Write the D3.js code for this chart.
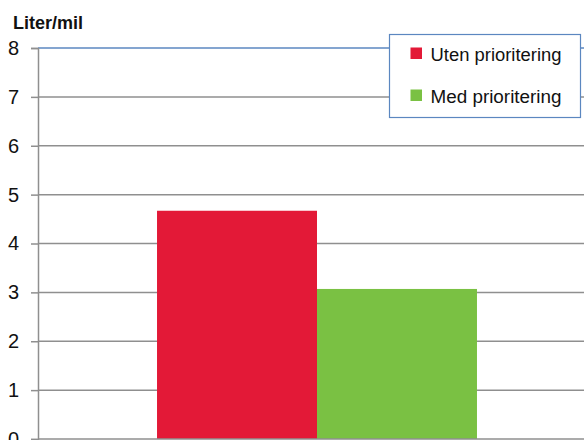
<!DOCTYPE html>
<html>
<head>
<meta charset="utf-8">
<script src="https://cdn.jsdelivr.net/npm/d3@7"></script>
<style>
  html, body { margin: 0; padding: 0; background: #fff; }
  svg { display: block; font-family: "Liberation Sans", Arial, sans-serif; }
</style>
</head>
<body>
<script>
// Fuel use per mile, with and without prioritisation
const categories = [""];
const seriesNames = ["Uten prioritering", "Med prioritering"];
const seriesColors = ["#e31937", "#7ac143"];
const seriesValues = [4.67, 3.07];
const yTicks = [0, 1, 2, 3, 4, 5, 6, 7, 8];
const yTitle = "Liter/mil";

const W = 584, H = 440;
const plot = { left: 38, right: 596, top: 48, bottom: 439 };

const svg = d3.select("body").append("svg")
  .attr("width", W).attr("height", H);

const y = d3.scaleLinear().domain([0, 8]).range([plot.bottom, plot.top]);
const x0 = d3.scaleBand().domain(categories)
  .range([plot.left, plot.right]).paddingInner(0).paddingOuter(0.372);
const x1 = d3.scaleBand().domain(seriesNames)
  .range([0, x0.bandwidth()]).padding(0);

// horizontal gridlines
svg.append("g").selectAll("line")
  .data(yTicks.filter(t => t > 0 && t < 8))
  .join("line")
  .attr("x1", plot.left).attr("x2", W)
  .attr("y1", d => y(d)).attr("y2", d => y(d))
  .attr("stroke", "#8f8f8f").attr("stroke-width", 1.5);

// top border of plot area
svg.append("line")
  .attr("x1", plot.left).attr("x2", W)
  .attr("y1", y(8)).attr("y2", y(8))
  .attr("stroke", "#5b87c0").attr("stroke-width", 1.5);

// bars
const g = svg.append("g").attr("transform", `translate(${x0(categories[0])},0)`);
g.selectAll("rect").data(seriesValues).join("rect")
  .attr("x", (d, i) => x1(seriesNames[i]))
  .attr("width", x1.bandwidth())
  .attr("y", d => y(d))
  .attr("height", d => y(0) - y(d))
  .attr("fill", (d, i) => seriesColors[i]);

// y axis
const yAxis = d3.axisLeft(y).tickValues(yTicks).tickSize(7).tickPadding(12)
  .tickFormat(d3.format("d"));
const ax = svg.append("g").attr("transform", `translate(${plot.left},0)`).call(yAxis);
ax.select(".domain").attr("stroke", "#8f8f8f").attr("stroke-width", 1.5);
ax.selectAll(".tick line").attr("stroke", "#8f8f8f").attr("stroke-width", 1.5);
ax.selectAll(".tick text")
  .attr("font-family", "'Liberation Sans', Arial, sans-serif")
  .attr("font-size", 20).attr("fill", "#111");

// baseline
svg.append("line")
  .attr("x1", plot.left).attr("x2", W)
  .attr("y1", y(0)).attr("y2", y(0))
  .attr("stroke", "#8f8f8f").attr("stroke-width", 1.5);

// axis title
svg.append("text")
  .attr("x", 13).attr("y", 29)
  .attr("font-size", 19).attr("font-weight", "bold").attr("fill", "#111")
  .attr("textLength", 70).attr("lengthAdjust", "spacingAndGlyphs")
  .text(yTitle);

// legend
const lg = svg.append("g").attr("transform", "translate(389.5,34.5)");
lg.append("rect").attr("width", 191).attr("height", 83)
  .attr("fill", "#fff").attr("stroke", "#5b87c0").attr("stroke-width", 1.2);
const items = lg.selectAll("g.item").data(seriesNames).join("g")
  .attr("class", "item")
  .attr("transform", (d, i) => `translate(21,${13 + i * 42})`);
items.append("rect").attr("width", 11.5).attr("height", 11.5)
  .attr("fill", (d, i) => seriesColors[i]);
items.append("text").attr("x", 20).attr("y", 13)
  .attr("font-size", 18).attr("fill", "#111")
  .attr("textLength", 131).attr("lengthAdjust", "spacingAndGlyphs")
  .text(d => d);
</script>
</body>
</html>
